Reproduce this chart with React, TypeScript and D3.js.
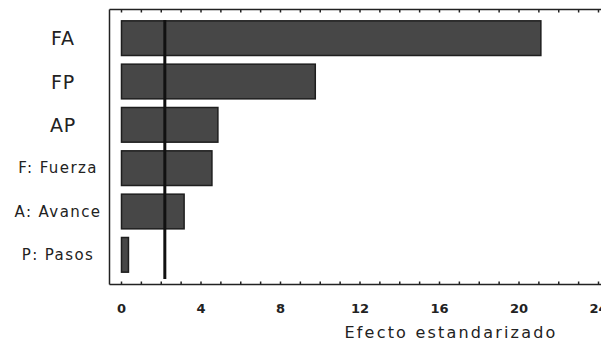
import React from "react";
import * as d3 from "d3";

// Standardized effects (Pareto chart)
const factors = ["FA", "FP", "AP", "F: Fuerza", "A: Avance", "P: Pasos"];
const effects = [21.1, 9.75, 4.85, 4.55, 3.15, 0.35];
const criticalValue = 2.18;
const tickValues = [0, 4, 8, 12, 16, 20, 24];
const axisTitle = "Efecto estandarizado";

const W = 601;
const H = 347;

export default function App() {
  const x = d3.scaleLinear().domain([0, 24]).range([121.5, 598.5]);
  const y = d3
    .scaleBand<string>()
    .domain(factors)
    .range([16.5, 276.5])
    .paddingInner(0.2)
    .paddingOuter(0.1);

  const frameLeft = 109.5;
  const frameTop = 9.5;
  const frameBottom = 284.5;
  const minorTicks = d3.range(0, 25, 1);

  const font = "'DejaVu Sans', Verdana, sans-serif";

  return (
    <svg
      width={W}
      height={H}
      style={{ position: "absolute", left: 0, top: 0, background: "#fff" }}
    >
      {/* frame */}
      <line x1={frameLeft} x2={W} y1={frameTop} y2={frameTop} stroke="#222" strokeWidth={1.5} />
      <line x1={frameLeft} x2={W} y1={frameBottom} y2={frameBottom} stroke="#222" strokeWidth={1.5} />
      <line x1={frameLeft} x2={frameLeft} y1={frameTop} y2={frameBottom} stroke="#222" strokeWidth={1.5} />

      {/* ticks, top and bottom, pointing inward */}
      {minorTicks.map((t) => (
        <g key={t}>
          <line x1={x(t)} x2={x(t)} y1={frameTop} y2={frameTop + 3} stroke="#222" strokeWidth={1.5} />
          <line x1={x(t)} x2={x(t)} y1={frameBottom} y2={frameBottom - 3} stroke="#222" strokeWidth={1.5} />
        </g>
      ))}

      {/* bars */}
      {factors.map((f, i) => (
        <rect
          key={f}
          x={x(0)}
          y={y(f)!}
          width={x(effects[i]) - x(0)}
          height={y.bandwidth()}
          fill="#474747"
          stroke="#1e1e1e"
          strokeWidth={1.5}
        />
      ))}

      {/* critical value reference line */}
      <line
        x1={x(criticalValue)}
        x2={x(criticalValue)}
        y1={20}
        y2={279}
        stroke="#111"
        strokeWidth={3}
      />

      {/* category labels */}
      {factors.map((f) => (
        <text
          key={f}
          x={f.length <= 2 ? 63 : 58}
          y={y(f)! + y.bandwidth() / 2}
          textAnchor="middle"
          dominantBaseline="central"
          fontFamily={font}
          fontSize={f.length <= 2 ? 19 : 15}
          letterSpacing={f.length <= 2 ? 0.8 : 1.4}
          fill="#222"
        >
          {f}
        </text>
      ))}

      {/* x tick labels */}
      {tickValues.map((t) => (
        <text
          key={t}
          x={x(t)}
          y={308}
          textAnchor="middle"
          dominantBaseline="central"
          fontFamily={font}
          fontSize={13}
          fontWeight="bold"
          fill="#222"
        >
          {t}
        </text>
      ))}

      {/* axis title */}
      <text
        x={451}
        y={332}
        textAnchor="middle"
        dominantBaseline="central"
        fontFamily={font}
        fontSize={16}
        letterSpacing={2.2}
        fill="#222"
      >
        {axisTitle}
      </text>
    </svg>
  );
}
